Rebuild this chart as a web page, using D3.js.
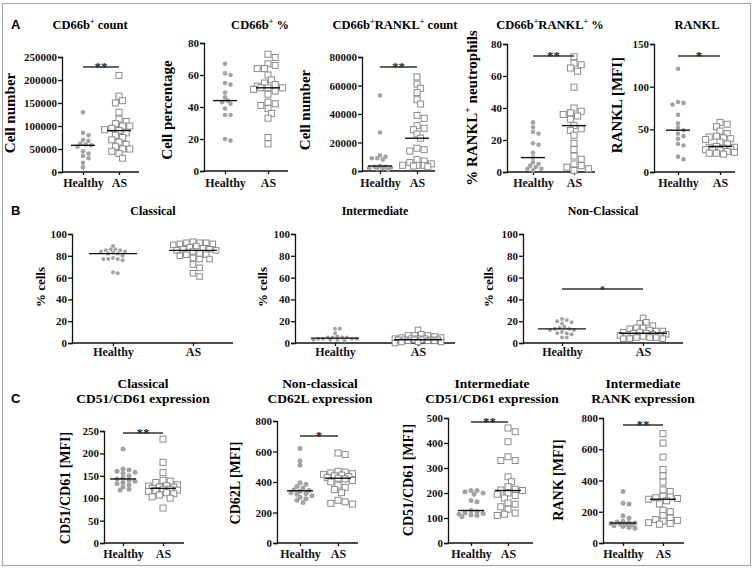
<!DOCTYPE html>
<html>
<head>
<meta charset="utf-8">
<style>
  body { margin: 0; background: #fff; }
  svg, svg text { font-family: 'Liberation Serif', 'Times New Roman', serif; font-weight: bold; }
  .y.axis .tick text { font-size: 11px; fill: #111; }
  .x.axis .tick text { font-size: 12px; fill: #111; }
  .domain, .tick line { stroke: #111; stroke-width: 1.3px; }
  svg text.letter { font-family: 'Liberation Sans', Arial, sans-serif; font-size: 13px; }
</style>
</head>
<body>
<svg width="754" height="568"></svg>
<script src="https://d3js.org/d3.v7.min.js"></script>
<script>
const groups = ["Healthy", "AS"];

// A: neutrophils
const cd66Count_H = [130000, 85000, 80000, 70000, 68000, 62000, 60000, 58000, 55000, 45000, 40000, 35000, 30000, 20000, 10000];
const cd66Count_AS = [210000, 165000, 155000, 150000, 130000, 115000, 110000, 105000, 100000, 100000, 95000, 92000, 90000, 85000, 80000, 75000, 70000, 65000, 60000, 55000, 50000, 50000, 45000, 40000, 30000];
const cd66Pct_H = [67, 61, 60, 55, 54, 49, 46, 44, 43, 42, 39, 35, 35, 20, 19];
const cd66Pct_AS = [73, 71, 67, 66, 64, 64, 60, 57, 55, 54, 53, 52, 52, 52, 51, 50, 48, 43, 42, 41, 39, 36, 33, 21, 17];
const rankCount_H = [53000, 27000, 11000, 10000, 9000, 9000, 8000, 3500, 3000, 3000, 2500, 2000, 2000, 1500, 1000];
const rankCount_AS = [66000, 61000, 58000, 55000, 50000, 47000, 39000, 37000, 32000, 30000, 29000, 26000, 23000, 16000, 15000, 14000, 8000, 7000, 6000, 5000, 4000, 4000, 4000, 3500, 3000];
const rankPct_H = [31, 28, 25, 24, 18, 17, 12, 9, 6, 5, 4, 3, 2, 2, 1];
const rankPct_AS = [72, 68, 67, 65, 63, 53, 40, 38, 37, 36, 35, 33, 29, 27, 26, 23, 18, 14, 10, 8, 5, 4, 3, 2, 1];
const rankl_H = [121, 82, 81, 79, 67, 57, 52, 49, 45, 42, 39, 33, 31, 18, 15];
const rankl_AS = [58, 56, 53, 48, 45, 42, 41, 40, 39, 38, 35, 33, 30, 29, 29, 28, 27, 26, 25, 25, 24, 23, 22, 22, 21];

// B: monocyte subsets
const classical_H = [89, 86, 86, 85, 85, 84, 84, 83, 82, 82, 80, 78, 77, 77, 77, 76, 65, 64];
const classical_AS = [93, 92, 92, 92, 91, 91, 90, 89, 88, 87, 86, 86, 85, 85, 84, 82, 81, 81, 80, 78, 77, 77, 72, 69, 64, 61];
const intermediate_H = [13, 13, 9, 6, 5, 5, 5, 5, 4, 4, 4, 4, 3, 3, 3, 2];
const intermediate_AS = [12, 8, 7, 7, 7, 6, 5, 5, 4, 4, 4, 4, 3, 3, 3, 3, 3, 3, 2, 2, 2, 1, 1, 1, 0];
const nonClassical_H = [22, 21, 20, 19, 18, 15, 14, 13, 13, 12, 12, 10, 9, 9, 8, 5, 5];
const nonClassical_AS = [23, 19, 18, 16, 14, 14, 13, 12, 11, 11, 10, 10, 9, 9, 8, 8, 7, 7, 6, 6, 5, 5, 5, 4, 4, 4];

// C: expression
const cd51Classical_H = [210, 165, 163, 160, 158, 155, 150, 145, 143, 140, 138, 135, 132, 130, 125, 120, 118];
const cd51Classical_AS = [232, 180, 157, 140, 138, 135, 130, 128, 127, 125, 125, 122, 120, 120, 118, 117, 115, 112, 110, 107, 103, 100, 78];
const cd62l_H = [620, 540, 510, 395, 385, 370, 360, 350, 345, 340, 330, 325, 320, 310, 300, 290, 280, 265];
const cd62l_AS = [590, 580, 470, 465, 460, 455, 450, 445, 440, 435, 430, 425, 420, 410, 400, 380, 365, 350, 330, 280, 270, 260, 255];
const cd51Inter_H = [210, 210, 205, 200, 195, 170, 165, 130, 125, 120, 118, 115, 112, 110, 105];
const cd51Inter_AS = [460, 445, 405, 345, 330, 330, 265, 245, 225, 215, 212, 210, 200, 195, 190, 180, 160, 155, 145, 135, 120, 115, 110];
const rankInter_H = [330, 255, 250, 175, 160, 140, 135, 130, 128, 125, 122, 120, 115, 110, 105, 100, 95];
const rankInter_AS = [700, 640, 550, 470, 430, 390, 340, 330, 300, 295, 290, 285, 280, 270, 250, 210, 200, 175, 160, 150, 145, 140, 130, 125, 120];

// titles, labels, ticks ("^+" = superscript plus)
const plots = [
  { title: ["CD66b^+ count"], ylab: "Cell number", ticks: [0, 50000, 100000, 150000, 200000, 250000], h: cd66Count_H, a: cd66Count_AS, sig: "**" },
  { title: ["CD66b^+ %"], ylab: "Cell percentage", ticks: [0, 20, 40, 60, 80], h: cd66Pct_H, a: cd66Pct_AS, sig: null },
  { title: ["CD66b^+RANKL^+ count"], ylab: "Cell number", ticks: [0, 20000, 40000, 60000, 80000], h: rankCount_H, a: rankCount_AS, sig: "**" },
  { title: ["CD66b^+RANKL^+ %"], ylab: "% RANKL^+ neutrophils", ticks: [0, 20, 40, 60, 80], h: rankPct_H, a: rankPct_AS, sig: "**" },
  { title: ["RANKL"], ylab: "RANKL [MFI]", ticks: [0, 50, 100, 150], h: rankl_H, a: rankl_AS, sig: "*" },
  { title: ["Classical"], ylab: "% cells", ticks: [0, 20, 40, 60, 80, 100], h: classical_H, a: classical_AS, sig: null },
  { title: ["Intermediate"], ylab: "% cells", ticks: [0, 20, 40, 60, 80, 100], h: intermediate_H, a: intermediate_AS, sig: null },
  { title: ["Non-Classical"], ylab: "% cells", ticks: [0, 20, 40, 60, 80, 100], h: nonClassical_H, a: nonClassical_AS, sig: "*" },
  { title: ["Classical", "CD51/CD61 expression"], ylab: "CD51/CD61 [MFI]", ticks: [0, 50, 100, 150, 200, 250], h: cd51Classical_H, a: cd51Classical_AS, sig: "**" },
  { title: ["Non-classical", "CD62L expression"], ylab: "CD62L [MFI]", ticks: [0, 200, 400, 600, 800], h: cd62l_H, a: cd62l_AS, sig: "*" },
  { title: ["Intermediate", "CD51/CD61 expression"], ylab: "CD51/CD61 [MFI]", ticks: [0, 100, 200, 300, 400, 500], h: cd51Inter_H, a: cd51Inter_AS, sig: "**" },
  { title: ["Intermediate", "RANK expression"], ylab: "RANK [MFI]", ticks: [0, 200, 400, 600, 800], h: rankInter_H, a: rankInter_AS, sig: "**" }
];

// layout of each panel
const layout = [
  { x0: 62, x1: 139, yTop: 57, yBot: 172, hx: 83, ax: 119, tx: 90, ty: 29, lx: 15, ly: 113, xl: 187, sy: 67, hw: 12, r: 2.3, s: 6, spread: 14, sigFs: 13, tfs: 12.5, lfs: 15 },
  { x0: 204, x1: 288, yTop: 43, yBot: 171, hx: 225, ax: 268, tx: 260, ty: 29, lx: 172, ly: 110, xl: 187, sy: 0, hw: 12, r: 2.3, s: 6, spread: 14, sigFs: 13, tfs: 12.5, lfs: 15 },
  { x0: 362, x1: 435, yTop: 57, yBot: 171, hx: 380, ax: 417, tx: 395, ty: 29, lx: 310, ly: 110, xl: 187, sy: 67, hw: 12, r: 2.3, s: 6, spread: 14, sigFs: 13, tfs: 12.5, lfs: 15 },
  { x0: 507, x1: 595, yTop: 44, yBot: 172, hx: 533, ax: 574, tx: 550, ty: 29, lx: 477, ly: 108, xl: 187, sy: 56, hw: 12, r: 2.3, s: 6, spread: 14, sigFs: 13, tfs: 12.5, lfs: 15 },
  { x0: 654, x1: 735, yTop: 44, yBot: 172, hx: 678, ax: 720, tx: 697, ty: 29, lx: 622, ly: 105, xl: 187, sy: 56, hw: 12, r: 2.3, s: 6, spread: 14, sigFs: 13, tfs: 12.5, lfs: 15 },
  { x0: 72, x1: 233, yTop: 234, yBot: 343, hx: 113, ax: 193, tx: 153, ty: 215, lx: 45, ly: 287, xl: 356, sy: 0, hw: 24, r: 2, s: 5.5, spread: 22, sigFs: 10, tfs: 12, lfs: 13 },
  { x0: 295, x1: 455, yTop: 234, yBot: 343, hx: 335, ax: 418, tx: 375, ty: 215, lx: 267, ly: 287, xl: 356, sy: 0, hw: 24, r: 2, s: 5.5, spread: 24, sigFs: 10, tfs: 12, lfs: 13 },
  { x0: 523, x1: 683, yTop: 234, yBot: 343, hx: 562, ax: 643, tx: 603, ty: 215, lx: 493, ly: 287, xl: 356, sy: 289, hw: 24, r: 2, s: 5.5, spread: 24, sigFs: 10, tfs: 12, lfs: 13 },
  { x0: 104, x1: 184, yTop: 431, yBot: 543, hx: 123, ax: 163, tx: 143, ty: 388, lx: 70, ly: 488, xl: 558, sy: 433, hw: 13, r: 2.5, s: 6, spread: 14, sigFs: 13, tfs: 13.5, lfs: 14 },
  { x0: 277, x1: 358, yTop: 421, yBot: 543, hx: 300, ax: 338, tx: 320, ty: 388, lx: 240, ly: 483, xl: 558, sy: 436, hw: 13, r: 2.5, s: 6, spread: 14, sigFs: 13, tfs: 13.5, lfs: 14 },
  { x0: 448, x1: 533, yTop: 418, yBot: 543, hx: 471, ax: 508, tx: 492, ty: 388, lx: 413, ly: 480, xl: 558, sy: 422, hw: 13, r: 2.5, s: 6, spread: 14, sigFs: 13, tfs: 13.5, lfs: 14 },
  { x0: 603, x1: 684, yTop: 418, yBot: 543, hx: 623, ax: 663, tx: 643, ty: 388, lx: 563, ly: 480, xl: 558, sy: 425, hw: 13, r: 2.5, s: 6, spread: 14, sigFs: 13, tfs: 13.5, lfs: 14 }
];

const svg = d3.select("svg");
const SERIF = "'Liberation Serif', 'Times New Roman', serif";

svg.append("rect")
  .attr("x", 2.5).attr("y", 3.5).attr("width", 748).attr("height", 562)
  .attr("fill", "none").attr("stroke", "#aaa").attr("stroke-width", 1.2);

[["A", 29], ["B", 215], ["C", 403]].forEach(([t, yy]) => {
  svg.append("text").attr("class", "letter").attr("x", 11).attr("y", yy).text(t);
});

// text with "^+" superscripts
function rich(sel, str, fs) {
  str.split(/(\^\+)/).filter(s => s.length).forEach((part, i, arr) => {
    if (part === "^+") {
      sel.append("tspan").attr("font-size", fs * 0.65).attr("dy", -fs * 0.4).text("+");
    } else {
      const prevSup = i > 0 && arr[i - 1] === "^+";
      sel.append("tspan").attr("dy", prevSup ? fs * 0.4 : 0).text(part);
    }
  });
}

// compact beeswarm: spread sideways within a limit, overlap allowed when crowded
function swarm(vals, cx, y, minD, step, maxOff) {
  const placed = [];
  const offs = [0];
  for (let k = 1; k * step <= maxOff; k++) offs.push(k * step, -k * step);
  return vals.slice().sort((a, b) => b - a).map(v => {
    const py = y(v);
    let best = null, bestD = -1;
    for (const off of offs) {
      const px = cx + off;
      const d = placed.length ? d3.min(placed, q => Math.hypot(q[0] - px, q[1] - py)) : Infinity;
      if (d >= minD) { best = px; break; }
      if (d > bestD) { bestD = d; best = px; }
    }
    placed.push([best, py]);
    return [best, py];
  });
}

plots.forEach((p, i) => {
  const L = layout[i];
  const g = svg.append("g");
  const y = d3.scaleLinear().domain([0, d3.max(p.ticks)]).range([L.yBot, L.yTop]);
  const x = d3.scalePoint().domain(groups).range([L.hx, L.ax]);

  // title
  p.title.forEach((line, j) => {
    const t = g.append("text").attr("x", L.tx).attr("y", L.ty + j * 15)
      .attr("text-anchor", "middle").attr("font-size", L.tfs);
    rich(t, line, L.tfs);
  });

  // y label
  const yl = g.append("text")
    .attr("transform", `translate(${L.lx},${L.ly}) rotate(-90)`)
    .attr("text-anchor", "middle").attr("dy", "0.35em").attr("font-size", L.lfs);
  rich(yl, p.ylab, L.lfs);

  // y axis
  g.append("g").attr("class", "y axis")
    .attr("transform", `translate(${L.x0},0)`)
    .call(d3.axisLeft(y).tickValues(p.ticks).tickSize(4).tickPadding(1).tickFormat(d3.format("d")))
    .attr("font-family", SERIF);

  // x axis
  g.append("g").attr("class", "x axis")
    .attr("transform", `translate(0,${L.yBot})`)
    .call(d3.axisBottom(x).tickSize(3).tickSizeOuter(0).tickPadding(2))
    .attr("font-family", SERIF)
    .call(a => a.select(".domain").attr("d", `M${L.x0},0H${L.x1}`))
    .call(a => a.selectAll(".tick text").attr("y", L.xl - L.yBot - 9).attr("dy", "0.71em"));

  // points
  const hp = swarm(p.h, x("Healthy"), y, L.r * 1.7, L.r * 1.2, L.spread);
  g.selectAll(".hdot").data(hp).join("circle")
    .attr("cx", d => d[0]).attr("cy", d => d[1]).attr("r", L.r)
    .attr("fill", "#a3a3a3");

  const ap = swarm(p.a, x("AS"), y, L.s * 0.9, L.s * 0.6, L.spread + 2);
  g.selectAll(".asq").data(ap).join("rect")
    .attr("x", d => d[0] - L.s / 2).attr("y", d => d[1] - L.s / 2)
    .attr("width", L.s).attr("height", L.s)
    .attr("fill", "#fff").attr("stroke", "#8a8a8a").attr("stroke-width", 1);

  // medians
  [["Healthy", p.h], ["AS", p.a]].forEach(([k, vals]) => {
    const m = d3.median(vals);
    g.append("line")
      .attr("x1", x(k) - L.hw).attr("x2", x(k) + L.hw)
      .attr("y1", y(m)).attr("y2", y(m))
      .attr("stroke", "#111").attr("stroke-width", 1.4);
  });

  // significance
  if (p.sig) {
    g.append("line")
      .attr("x1", x("Healthy")).attr("x2", x("AS"))
      .attr("y1", L.sy).attr("y2", L.sy)
      .attr("stroke", "#333").attr("stroke-width", 1.4);
    g.append("text")
      .attr("x", (x("Healthy") + x("AS")) / 2).attr("y", L.sy + 4)
      .attr("text-anchor", "middle").attr("font-size", L.sigFs).attr("fill", "#222")
      .text(p.sig);
  }
});
</script>
</body>
</html>
